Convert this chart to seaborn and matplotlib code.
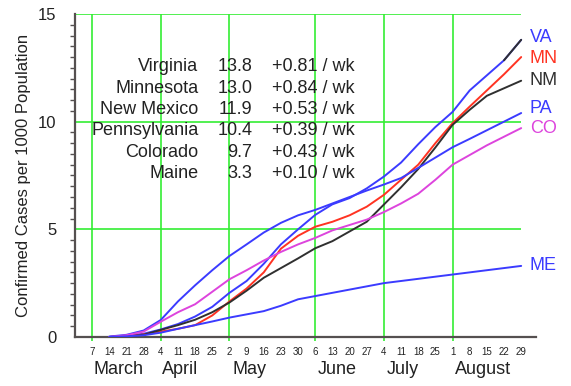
import matplotlib
matplotlib.use("Agg")
import matplotlib.pyplot as plt
from matplotlib.ticker import MultipleLocator
import seaborn as sns
import pandas as pd

# Wochen ab 14. März (Woche 0 = 7. März)
weeks = list(range(1, 26))
day_labels = ["7", "14", "21", "28", "4", "11", "18", "25", "2", "9", "16", "23", "30",
              "6", "13", "20", "27", "4", "11", "18", "25", "1", "8", "15", "22", "29"]
months = ["March", "April", "May", "June", "July", "August"]
month_pos = [1.55, 5.1, 9.15, 14.3, 18.1, 22.8]
month_start_weeks = [0, 4, 8, 13, 17, 21]

states = ["Virginia", "Minnesota", "New Mexico", "Pennsylvania", "Colorado", "Maine"]
abbrevs = ["VA", "MN", "NM", "PA", "CO", "ME"]
rates = [0.81, 0.84, 0.53, 0.39, 0.43, 0.10]

va = [0.0, 0.05, 0.15, 0.35, 0.6, 0.95, 1.4, 2.05, 2.6, 3.4, 4.3, 5.0, 5.67, 6.16, 6.45,
      6.9, 7.45, 8.1, 8.95, 9.75, 10.45, 11.45, 12.15, 12.85, 13.8]
mn = [0.0, 0.05, 0.12, 0.25, 0.38, 0.55, 1.0, 1.65, 2.25, 3.0, 4.1, 4.7, 5.12, 5.35, 5.65,
      6.05, 6.6, 7.3, 8.0, 9.0, 9.93, 10.7, 11.45, 12.2, 13.0]
nm = [0.0, 0.03, 0.1, 0.33, 0.55, 0.8, 1.15, 1.6, 2.15, 2.75, 3.2, 3.65, 4.12, 4.45, 4.9,
      5.35, 6.15, 6.95, 7.8, 8.8, 9.85, 10.55, 11.2, 11.55, 11.9]
pa = [0.02, 0.1, 0.3, 0.79, 1.65, 2.4, 3.1, 3.76, 4.3, 4.85, 5.3, 5.65, 5.9, 6.2, 6.5,
      6.8, 7.08, 7.38, 7.85, 8.33, 8.81, 9.2, 9.6, 10.0, 10.4]
co = [0.0, 0.08, 0.25, 0.71, 1.15, 1.52, 2.1, 2.68, 3.1, 3.55, 3.95, 4.3, 4.6, 4.95, 5.2,
      5.45, 5.8, 6.2, 6.65, 7.3, 8.0, 8.45, 8.9, 9.3, 9.7]
me = [0.0, 0.03, 0.08, 0.2, 0.38, 0.55, 0.72, 0.9, 1.05, 1.2, 1.45, 1.75, 1.9, 2.05, 2.2,
      2.35, 2.5, 2.6, 2.7, 2.8, 2.9, 3.0, 3.1, 3.2, 3.3]

series = [va, mn, nm, pa, co, me]
colors = ["#3b3bff", "#ff3322", "#303030", "#3b3bff", "#dd44dd", "#3b3bff"]
label_nudge = [0.1, -0.05, 0.0, 0.2, 0.0, 0.0]

# Long-Format fuer seaborn
df = pd.DataFrame({
    "week": weeks * len(abbrevs),
    "value": sum(series, []),
    "state": [a for a in abbrevs for _ in weeks],
})

sns.set_style("white")
plt.rcParams["font.family"] = ["Liberation Sans", "DejaVu Sans"]
text_col = "#222222"
axis_col = "#555050"
green = "#33ee33"

fig = plt.figure(figsize=(5.71, 3.86), dpi=100)
ax = fig.add_axes([0.1313, 0.127, 0.807, 0.8368])

# Gitterlinien
ax.vlines(month_start_weeks, -0.2, 15, colors=green, lw=1.2, clip_on=False, zorder=1)
ax.hlines([5, 10, 15], -1, 25, colors=green, lw=1.2, zorder=1)

sns.lineplot(data=df, x="week", y="value", hue="state", palette=dict(zip(abbrevs, colors)),
             legend=False, lw=1.4, ax=ax, zorder=3)
# letztes Segment von Virginia ist im Original schwarz
sns.lineplot(x=weeks[-2:], y=va[-2:], color="#303030", lw=1.4, ax=ax, zorder=4)

ax.set_xlim(-1, 25.85)
ax.set_ylim(0, 15)

# Achsen
sns.despine(ax=ax)
for s in ["left", "bottom"]:
    ax.spines[s].set_color(axis_col)
    ax.spines[s].set_linewidth(1.6)
ax.set_yticks([0, 5, 10, 15])
ax.yaxis.set_minor_locator(MultipleLocator(0.5))
ax.tick_params(axis="y", which="major", length=8.5, width=1.4, color=axis_col,
               labelsize=12, labelcolor=text_col, pad=5)
ax.tick_params(axis="y", which="minor", length=3.5, width=1.0, color=axis_col, left=True)
ax.set_xticks(range(len(day_labels)))
ax.set_xticklabels(day_labels)
ax.tick_params(axis="x", length=0, labelsize=7, labelcolor=text_col, pad=7)
ax.set_xlabel("")
ax.set_ylabel("Confirmed Cases per 1000 Population", fontsize=12, color=text_col, labelpad=5)

for m, p in zip(months, month_pos):
    ax.text(p, -0.102, m, transform=ax.get_xaxis_transform(), ha="center", va="center",
            fontsize=13, color=text_col)

# Tabelle
for i, (name, s, r) in enumerate(zip(states, series, rates)):
    y = 12.55 - i * 0.99
    ax.text(6.2, y, name, ha="right", va="center", fontsize=13, color=text_col)
    ax.text(9.33, y, f"{s[-1]:.1f}", ha="right", va="center", fontsize=13, color=text_col)
    ax.text(10.5, y, f"+{r:.2f} / wk", ha="left", va="center", fontsize=13, color=text_col)

# Kuerzel rechts
for ab, s, c, n in zip(abbrevs, series, colors, label_nudge):
    ax.text(25.5, s[-1] + n, ab, ha="left", va="center", fontsize=13, color=c, clip_on=False)

fig.savefig("out.png", dpi=100)
